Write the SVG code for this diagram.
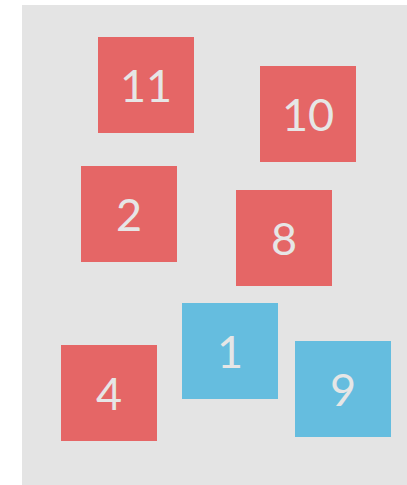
<svg xmlns="http://www.w3.org/2000/svg" width="407" height="485" viewBox="0 0 407 485">
<style>
.red{fill:#E56666}
.blue{fill:#65BDDF}
text{font-family:Lato,"Open Sans","Liberation Sans",sans-serif;font-size:45px;fill:#E6E6E6;text-anchor:middle}
</style>
<rect x="22" y="5" width="385" height="480" fill="#E4E4E4"/>
<g id="connectors"/>
<g id="node-11"><rect class="red" x="98" y="37" width="96" height="96"/><text x="146" y="102">11</text></g>
<g id="node-10"><rect class="red" x="260" y="66" width="96" height="96"/><text x="308" y="131">10</text></g>
<g id="node-2"><rect class="red" x="81" y="166" width="96" height="96"/><text x="129" y="231">2</text></g>
<g id="node-8"><rect class="red" x="236" y="190" width="96" height="96"/><text x="284" y="255">8</text></g>
<g id="node-4"><rect class="red" x="61" y="345" width="96" height="96"/><text x="109" y="410">4</text></g>
<g id="node-1"><rect class="blue" x="182" y="303" width="96" height="96"/><text x="230" y="368">1</text></g>
<g id="node-9"><rect class="blue" x="295" y="341" width="96" height="96"/><text x="343" y="406">9</text></g>
</svg>
